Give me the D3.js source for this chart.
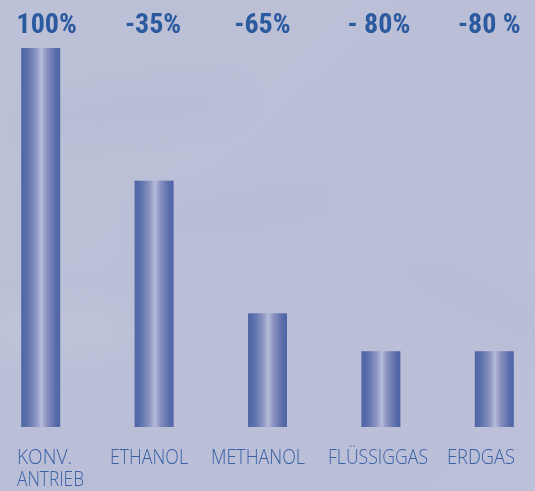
<!DOCTYPE html>
<html>
<head>
<meta charset="utf-8">
<script src="https://cdn.jsdelivr.net/npm/d3@7"></script>
<style>
  body { margin: 0; background: #bcc0d7; }
  svg { display: block; }
</style>
</head>
<body>
<div id="chart"></div>
<script>
// fuel types and relative CO2
var fuels = ["KONV.|ANTRIEB", "ETHANOL", "METHANOL", "FLÜSSIGGAS", "ERDGAS"];
var values = [100, 65, 30, 20, 20];
var topLabels = ["100%", "-35%", "-65%", "- 80%", "-80 %"];

var width = 535,
    height = 491;

var svg = d3.select("#chart").append("svg")
    .attr("width", width)
    .attr("height", height);

var defs = svg.append("defs");

// soft cloudy background
var bg = defs.append("linearGradient")
    .attr("id", "bg")
    .attr("x1", 0).attr("y1", 0).attr("x2", 1).attr("y2", 1);
bg.append("stop").attr("offset", "0%").attr("stop-color", "#bdc1d7");
bg.append("stop").attr("offset", "50%").attr("stop-color", "#babfd7");
bg.append("stop").attr("offset", "100%").attr("stop-color", "#bbbfd8");

var blur = defs.append("filter").attr("id", "soft")
    .attr("x", "-50%").attr("y", "-50%").attr("width", "200%").attr("height", "200%");
blur.append("feGaussianBlur").attr("stdDeviation", 14);

// bar shading: dark edges, light stripe in the middle
var grad = defs.append("linearGradient")
    .attr("id", "barGrad")
    .attr("x1", 0).attr("y1", 0).attr("x2", 1).attr("y2", 0);
grad.append("stop").attr("offset", "0%").attr("stop-color", "#4f66a6");
grad.append("stop").attr("offset", "15%").attr("stop-color", "#5a6fab");
grad.append("stop").attr("offset", "38%").attr("stop-color", "#8b93c1");
grad.append("stop").attr("offset", "52%").attr("stop-color", "#b5bbd8");
grad.append("stop").attr("offset", "66%").attr("stop-color", "#8990bf");
grad.append("stop").attr("offset", "88%").attr("stop-color", "#5a6dab");
grad.append("stop").attr("offset", "100%").attr("stop-color", "#4d64a5");

svg.append("rect")
    .attr("width", width)
    .attr("height", height)
    .attr("fill", "url(#bg)");

// faint streaks of cloud
var clouds = svg.append("g").attr("filter", "url(#soft)").attr("opacity", 0.45);
clouds.append("ellipse").attr("cx", 130).attr("cy", 110).attr("rx", 110).attr("ry", 14)
    .attr("fill", "#b0b6d5").attr("transform", "rotate(-6 130 110)");
clouds.append("ellipse").attr("cx", 240).attr("cy", 210).attr("rx", 100).attr("ry", 12)
    .attr("fill", "#afb5d4").attr("transform", "rotate(-8 240 210)");
clouds.append("ellipse").attr("cx", 60).attr("cy", 330).attr("rx", 80).attr("ry", 30)
    .attr("fill", "#c4c7dc");
clouds.append("ellipse").attr("cx", 480).attr("cy", 300).attr("rx", 90).attr("ry", 14)
    .attr("fill", "#b3b8d6").attr("transform", "rotate(25 480 300)");

var x = d3.scaleBand()
    .domain(fuels)
    .range([-16, 551])
    .paddingInner(0.656)
    .paddingOuter(0.328);

var y = d3.scaleLinear()
    .domain([0, 100])
    .range([427, 48]);

svg.selectAll(".bar")
    .data(values)
    .enter().append("rect")
    .attr("class", "bar")
    .attr("x", function(d, i) { return x(fuels[i]); })
    .attr("y", function(d) { return y(d); })
    .attr("width", x.bandwidth())
    .attr("height", function(d) { return y(0) - y(d); })
    .attr("fill", "url(#barGrad)");

// percentage labels along the top
var topShift = [6, -1, -5, -2, -5];
svg.selectAll(".pct")
    .data(topLabels)
    .enter().append("text")
    .attr("class", "pct")
    .attr("x", function(d, i) { return x(fuels[i]) + x.bandwidth() / 2 + topShift[i]; })
    .attr("y", 33)
    .attr("text-anchor", "middle")
    .attr("fill", "#2c5a9f")
    .style("font-family", "'Liberation Sans Narrow', 'Roboto Condensed', sans-serif")
    .style("font-weight", "bold")
    .style("font-size", "28px")
    .text(function(d) { return d; });

// category names below the bars (widths matched to the original lettering)
var nameStart = [17, 110, 211, 328, 447];
var nameWidth = [[55, 67], [78], [94], [100], [68]];
var names = svg.selectAll(".name")
    .data(fuels)
    .enter().append("text")
    .attr("class", "name")
    .attr("y", 464)
    .attr("fill", "#3b61a7")
    .style("font-family", "'Open Sans', sans-serif")
    .style("font-weight", 300)
    .style("font-size", "21px");

names.each(function(d, i) {
    var t = d3.select(this);
    d.split("|").forEach(function(p, k) {
        t.append("tspan")
            .attr("x", nameStart[i])
            .attr("dy", k === 0 ? 0 : 22)
            .attr("textLength", nameWidth[i][k])
            .attr("lengthAdjust", "spacingAndGlyphs")
            .text(p);
    });
});
</script>
</body>
</html>
